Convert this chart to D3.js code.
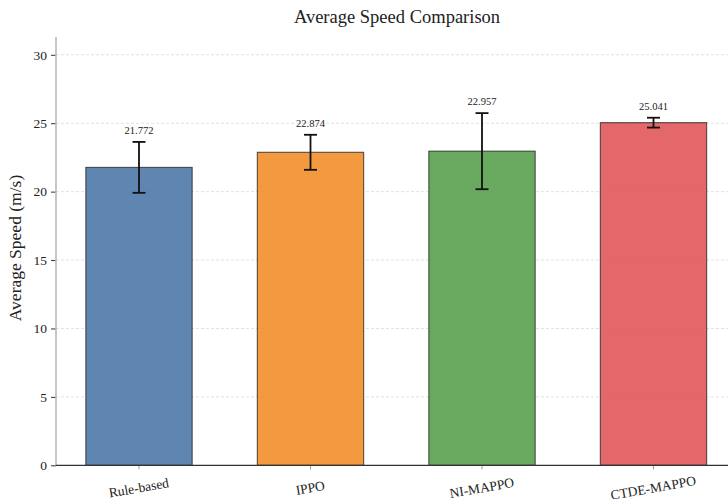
<!DOCTYPE html>
<html>
<head>
<meta charset="utf-8">
<script src="https://cdn.jsdelivr.net/npm/d3@7"></script>
<style>
  html, body { margin: 0; padding: 0; background: #fff; }
  svg { display: block; }
  text { font-family: "Liberation Serif", "Times New Roman", serif; }
</style>
</head>
<body>
<svg id="chart" width="728" height="504"></svg>
<script>
// Method names and their average speed results (m/s)
const categories = ["Rule-based", "IPPO", "NI-MAPPO", "CTDE-MAPPO"];
const meanSpeed = [21.772, 22.874, 22.957, 25.041];
const stdSpeed = [1.86, 1.28, 2.78, 0.36];
const barColors = ["#4e79a7", "#f28e2b", "#59a14f", "#e15759"];
const yTicks = [0, 5, 10, 15, 20, 25, 30];

const W = 728, H = 504;
const plotLeft = 56, plotRight = 728, plotTop = 37, plotBottom = 465.3;

const svg = d3.select("#chart");

const x = d3.scaleBand()
  .domain(categories)
  .range([53.25, 739.25])
  .paddingInner(0.38)
  .paddingOuter(0.19);

const y = d3.scaleLinear()
  .domain([0, 31.3])
  .range([plotBottom, plotTop]);

// horizontal dashed grid
svg.append("g")
  .selectAll("line")
  .data(yTicks.filter(d => d > 0))
  .join("line")
  .attr("x1", plotLeft).attr("x2", plotRight)
  .attr("y1", d => y(d)).attr("y2", d => y(d))
  .attr("stroke", "#d9d9d9")
  .attr("stroke-width", 0.8)
  .attr("stroke-dasharray", "3,2");

// bars
svg.append("g")
  .selectAll("rect")
  .data(categories)
  .join("rect")
  .attr("x", d => x(d))
  .attr("width", x.bandwidth())
  .attr("y", (d, i) => y(meanSpeed[i]))
  .attr("height", (d, i) => y(0) - y(meanSpeed[i]))
  .attr("fill", (d, i) => barColors[i])
  .attr("fill-opacity", 0.9)
  .attr("stroke", "#222")
  .attr("stroke-opacity", 0.75)
  .attr("stroke-width", 1.1);

// error bars
const eg = svg.append("g").attr("stroke", "#111").attr("stroke-width", 1.8);
categories.forEach((c, i) => {
  const cx = x(c) + x.bandwidth() / 2;
  const lo = y(meanSpeed[i] - stdSpeed[i]);
  const hi = y(meanSpeed[i] + stdSpeed[i]);
  eg.append("line").attr("x1", cx).attr("x2", cx).attr("y1", lo).attr("y2", hi);
  eg.append("line").attr("x1", cx - 6.5).attr("x2", cx + 6.5).attr("y1", lo).attr("y2", lo);
  eg.append("line").attr("x1", cx - 6.5).attr("x2", cx + 6.5).attr("y1", hi).attr("y2", hi);
});

// value labels above the error bars
svg.append("g")
  .selectAll("text")
  .data(categories)
  .join("text")
  .attr("x", d => x(d) + x.bandwidth() / 2)
  .attr("y", (d, i) => y(meanSpeed[i] + stdSpeed[i]) - 8)
  .attr("text-anchor", "middle")
  .attr("font-size", 10.5)
  .attr("fill", "#222")
  .text((d, i) => meanSpeed[i].toFixed(3));

// y axis
const yAxis = svg.append("g")
  .attr("transform", `translate(${plotLeft},0)`)
  .call(d3.axisLeft(y).tickValues(yTicks).tickSize(5).tickPadding(4));
yAxis.select(".domain").remove();
yAxis.selectAll(".tick line").attr("stroke", "#333").attr("stroke-width", 1);
yAxis.selectAll(".tick text")
  .attr("font-family", "Liberation Serif, serif")
  .attr("font-size", 13.5)
  .attr("fill", "#222");
svg.append("line")
  .attr("x1", plotLeft).attr("x2", plotLeft)
  .attr("y1", plotTop).attr("y2", plotBottom)
  .attr("stroke", "#b8b8b8").attr("stroke-width", 1.6);

// x axis
const xAxis = svg.append("g")
  .attr("transform", `translate(0,${plotBottom})`)
  .call(d3.axisBottom(x).tickSize(4).tickPadding(4));
xAxis.select(".domain").remove();
xAxis.selectAll(".tick line").attr("stroke", "#999").attr("stroke-width", 1);
xAxis.selectAll(".tick text")
  .attr("font-family", "Liberation Serif, serif")
  .attr("font-size", 13.5)
  .attr("fill", "#222")
  .attr("text-anchor", "middle")
  .attr("dy", null)
  .attr("y", 0)
  .attr("transform", "translate(0,24) rotate(-10)")
  .attr("dominant-baseline", "middle");
svg.append("line")
  .attr("x1", plotLeft).attr("x2", plotRight)
  .attr("y1", plotBottom).attr("y2", plotBottom)
  .attr("stroke", "#333").attr("stroke-width", 1.2);

// axis title
svg.append("text")
  .attr("transform", `translate(21,248) rotate(-90)`)
  .attr("text-anchor", "middle")
  .attr("font-size", 17.5)
  .attr("fill", "#222")
  .text("Average Speed (m/s)");

// chart title
svg.append("text")
  .attr("x", 397)
  .attr("y", 23)
  .attr("text-anchor", "middle")
  .attr("font-size", 18.5)
  .attr("fill", "#222")
  .text("Average Speed Comparison");
</script>
</body>
</html>
